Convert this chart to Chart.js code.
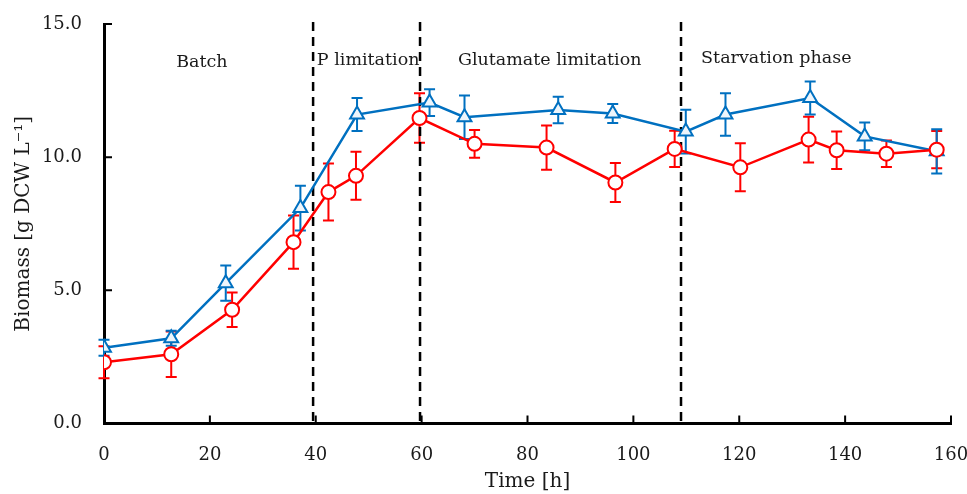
<!DOCTYPE html>
<html>
<head>
<meta charset="utf-8">
<script src="https://cdn.jsdelivr.net/npm/chart.js@4.4.0/dist/chart.umd.min.js"></script>
<style>
  html, body { margin: 0; padding: 0; background: #fff; }
  #wrap { width: 967px; height: 494px; }
</style>
</head>
<body>
<div id="wrap"><canvas id="c" width="967" height="494"></canvas></div>
<script>
// ---- data ----
const blueTime = [0, 12.7, 23, 37.1, 47.8, 61.5, 68.1, 85.8, 96.1, 109.9, 117.4, 133.4, 143.7, 157.3];
const blueBiomass = [2.84, 3.2, 5.27, 8.09, 11.6, 12.05, 11.5, 11.77, 11.64, 10.96, 11.6, 12.22, 10.78, 10.22];
const blueError = [0.3, 0.28, 0.66, 0.84, 0.62, 0.5, 0.82, 0.5, 0.36, 0.82, 0.8, 0.62, 0.52, 0.83];

const redTime = [0, 12.7, 24.2, 35.8, 42.4, 47.6, 59.6, 70, 83.6, 96.6, 107.8, 120.2, 133.1, 138.4, 147.8, 157.3];
const redBiomass = [2.3, 2.6, 4.27, 6.81, 8.69, 9.3, 11.47, 10.5, 10.36, 9.05, 10.31, 9.62, 10.66, 10.26, 10.13, 10.28];
const redError = [0.6, 0.85, 0.65, 1.0, 1.07, 0.9, 0.93, 0.52, 0.83, 0.73, 0.68, 0.9, 0.86, 0.7, 0.5, 0.7];

const phaseBoundaries = [39.5, 59.7, 109.0];
const phaseNames = ["Batch", "P limitation", "Glutamate limitation", "Starvation phase"];
const xTickValues = [0, 20, 40, 60, 80, 100, 120, 140, 160];
const yTickValues = [0, 5, 10, 15];

const toPts = (xs, ys) => xs.map((x, i) => ({x: x, y: ys[i]}));

const FONT = "'DejaVu Serif', serif";
const TXT = '#1a1a1a';

const errorBars = {
  id: 'errorBars',
  beforeDatasetsDraw(chart) {
    const ctx = chart.ctx;
    const xs = chart.scales.x, ys = chart.scales.y;
    chart.data.datasets.forEach((ds) => {
      ctx.save();
      ctx.strokeStyle = ds.borderColor;
      ctx.lineWidth = 2;
      ds.data.forEach((p, i) => {
        const e = ds.errors[i];
        const px = xs.getPixelForValue(p.x);
        const top = ys.getPixelForValue(p.y + e);
        const bot = ys.getPixelForValue(p.y - e);
        ctx.beginPath();
        ctx.moveTo(px, top); ctx.lineTo(px, bot);
        ctx.moveTo(px - 5.5, top); ctx.lineTo(px + 5.5, top);
        ctx.moveTo(px - 5.5, bot); ctx.lineTo(px + 5.5, bot);
        ctx.stroke();
      });
      ctx.restore();
    });
  }
};

const phases = {
  id: 'phases',
  beforeDatasetsDraw(chart) {
    const ctx = chart.ctx;
    const xs = chart.scales.x, ys = chart.scales.y;
    const area = chart.chartArea;
    ctx.save();
    ctx.strokeStyle = '#000';
    ctx.lineWidth = 2.5;
    ctx.setLineDash([9, 6]);
    phaseBoundaries.forEach((b) => {
      const px = xs.getPixelForValue(b);
      ctx.beginPath();
      ctx.moveTo(px, area.top - 2);
      ctx.lineTo(px, area.bottom);
      ctx.stroke();
    });
    ctx.restore();
    // phase labels, centred in each phase region
    const labelX = [18.5, 49.9, 84.2, 127];
    const labelY = [13.55, 13.63, 13.63, 13.7];
    ctx.save();
    ctx.fillStyle = TXT;
    ctx.font = "17.5px " + FONT;
    ctx.textAlign = 'center';
    ctx.textBaseline = 'middle';
    phaseNames.forEach((n, i) => {
      ctx.fillText(n, xs.getPixelForValue(labelX[i]), ys.getPixelForValue(labelY[i]));
    });
    ctx.restore();
  },
  afterDraw(chart) {
    // inward tick marks
    const ctx = chart.ctx;
    const xs = chart.scales.x, ys = chart.scales.y;
    const area = chart.chartArea;
    ctx.save();
    ctx.strokeStyle = '#000';
    ctx.lineWidth = 2;
    ctx.beginPath();
    xTickValues.forEach((v) => {
      const px = xs.getPixelForValue(v);
      ctx.moveTo(px, area.bottom); ctx.lineTo(px, area.bottom - 8);
    });
    yTickValues.forEach((v) => {
      const py = ys.getPixelForValue(v);
      ctx.moveTo(area.left, py); ctx.lineTo(area.left + 8, py);
    });
    ctx.stroke();
    ctx.restore();
  }
};

new Chart(document.getElementById('c'), {
  type: 'scatter',
  data: {
    datasets: [
      {
        label: 'red',
        data: toPts(redTime, redBiomass),
        errors: redError,
        showLine: true,
        borderColor: '#ff0000',
        backgroundColor: '#ffffff',
        borderWidth: 2.5,
        pointStyle: 'circle',
        pointRadius: 7,
        pointBorderWidth: 2,
        pointBackgroundColor: '#ffffff',
        pointBorderColor: '#ff0000'
      },
      {
        label: 'blue',
        data: toPts(blueTime, blueBiomass),
        errors: blueError,
        showLine: true,
        borderColor: '#0070c0',
        backgroundColor: '#eef5fb',
        borderWidth: 2.5,
        pointStyle: 'triangle',
        pointRadius: 8,
        pointBorderWidth: 2,
        pointBackgroundColor: '#eef5fb',
        pointBorderColor: '#0070c0'
      }
    ]
  },
  options: {
    responsive: false,
    animation: false,
    events: [],
    layout: { padding: { left: 0, right: 0, top: 24, bottom: 0 } },
    plugins: { legend: { display: false }, tooltip: { enabled: false } },
    scales: {
      x: {
        type: 'linear',
        min: 0, max: 160,
        afterFit: (s) => { s.height = 70.5; s.paddingRight = 16; s.paddingLeft = 0; },
        afterBuildTicks: (s) => { s.ticks = xTickValues.map(v => ({value: v})); },
        grid: { display: false, drawTicks: false },
        border: { display: true, color: '#000', width: 3 },
        ticks: { color: TXT, font: { family: FONT, size: 18 }, padding: 21, maxRotation: 0 },
        title: { display: true, text: 'Time [h]', color: TXT, font: { family: FONT, size: 20 }, padding: { top: 0, bottom: 0 } }
      },
      y: {
        type: 'linear',
        min: 0, max: 15,
        afterFit: (s) => { s.width = 104; s.paddingTop = 0; s.paddingBottom = 0; },
        afterBuildTicks: (s) => { s.ticks = yTickValues.map(v => ({value: v})); },
        grid: { display: false, drawTicks: false },
        border: { display: true, color: '#000', width: 3 },
        ticks: { color: TXT, font: { family: FONT, size: 18 }, padding: 22, callback: (v) => Number(v).toFixed(1) },
        title: { display: true, text: 'Biomass [g DCW L⁻¹]', color: TXT, font: { family: FONT, size: 20 }, padding: { top: 12, bottom: 0 } }
      }
    }
  },
  plugins: [errorBars, phases]
});
</script>
</body>
</html>
